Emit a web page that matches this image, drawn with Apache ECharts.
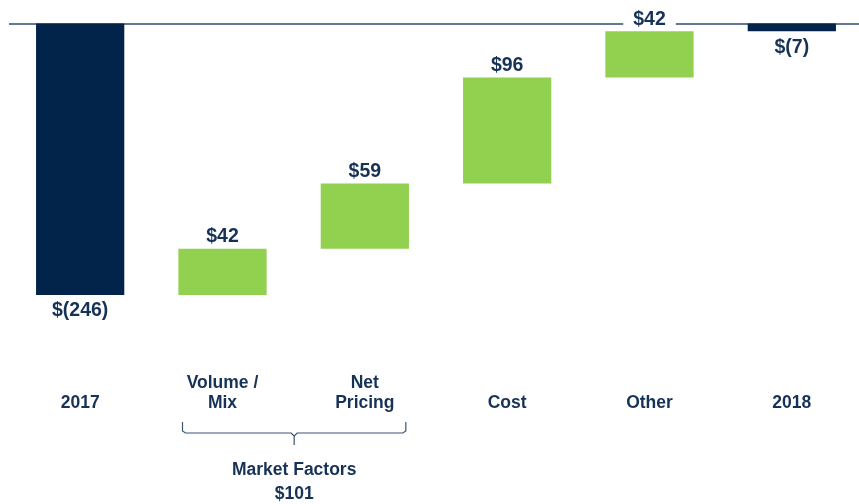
<!DOCTYPE html>
<html>
<head>
<meta charset="utf-8">
<script src="https://cdn.jsdelivr.net/npm/echarts@6/dist/echarts.min.js"></script>
<style>
  html, body { margin: 0; padding: 0; background: #fff; }
  #chart { width: 859px; height: 504px; }
</style>
</head>
<body>
<div id="chart"></div>
<script>
  // waterfall data
  var categories = ['2017', 'Volume /\nMix', 'Net\nPricing', 'Cost', 'Other', '2018']
  var values = [-246, 42, 59, 96, 42, -7]
  var isTotal = [true, false, false, false, false, true]
  var valueLabels = ['$(246)', '$42', '$59', '$96', '$42', '$(7)']
  var groupName = 'Market Factors'
  var groupFrom = 1
  var groupTo = 2

  var navy = '#03244a'
  var green = '#92d050'
  var textColor = '#173257'
  var fontFam = 'Liberation Sans, Arial, sans-serif'

  // build transparent base + visible part from running total
  var baseData = []
  var visData = []
  var running = 0
  values.forEach(function (v, i) {
    if (isTotal[i]) {
      baseData.push(0)
      visData.push({value: v, itemStyle: {color: navy},
        label: {show: true, position: 'bottom', distance: 6, formatter: valueLabels[i]}})
      running = v
    } else {
      var end = running + v
      baseData.push(end)
      visData.push({value: -v, itemStyle: {color: green},
        label: {show: true, position: 'top', distance: 2, formatter: valueLabels[i],
          backgroundColor: '#fff', padding: [0, 10, 0, 10]}})
      running = end
    }
  })
  var groupTotal = 0
  for (var k = groupFrom; k <= groupTo; k++) groupTotal += values[k]

  var chart = echarts.init(document.getElementById('chart'))
  chart.setOption({
    animation: false,
    grid: {left: 9, right: -4, top: 23.5, bottom: 149.4, outerBoundsMode: 'none'},
    xAxis: {
      type: 'category',
      data: categories,
      axisLine: {show: false},
      axisTick: {show: false},
      axisLabel: {
        color: textColor, fontSize: 17.5, fontWeight: 'bold', lineHeight: 20,
        fontFamily: fontFam,
        verticalAlign: 'bottom', margin: 59
      }
    },
    yAxis: {
      type: 'value', min: -300, max: 0,
      show: false, splitLine: {show: false}
    },
    series: [
      {
        type: 'bar', stack: 'w', barWidth: '62%',
        itemStyle: {color: 'transparent'},
        data: baseData,
        silent: true,
        markLine: {
          z: 1,
          symbol: 'none', silent: true, label: {show: false},
          lineStyle: {color: '#2c4a6e', width: 1.5, type: 'solid'},
          data: [{yAxis: 0}]
        }
      },
      {
        type: 'bar', stack: 'w', barWidth: '62%',
        data: visData,
        z: 3,
        label: {
          color: textColor, fontSize: 19.5, fontWeight: 'bold',
          fontFamily: fontFam
        }
      }
    ]
  })

  // brace + group label under the market factor categories
  var x1 = chart.convertToPixel({xAxisIndex: 0}, groupFrom) - 40
  var x2 = chart.convertToPixel({xAxisIndex: 0}, groupTo) + 41
  var xm = (x1 + x2) / 2
  var braceTop = 422, braceMid = 433, braceTip = 445
  var braceStyle = {stroke: '#3b5472', lineWidth: 1.2, fill: null}
  chart.setOption({
    graphic: [
      {type: 'polyline', shape: {points: [[x1, braceTop], [x1, braceMid - 2], [x1 + 3, braceMid], [xm - 3, braceMid], [xm, braceMid + 3], [xm, braceTip]]}, style: braceStyle},
      {type: 'polyline', shape: {points: [[x2, braceTop], [x2, braceMid - 2], [x2 - 3, braceMid], [xm + 3, braceMid], [xm, braceMid + 3]]}, style: braceStyle},
      {type: 'text', x: xm, y: 470, style: {text: groupName, fill: textColor, font: 'bold 17.5px ' + fontFam, textAlign: 'center', textVerticalAlign: 'middle'}},
      {type: 'text', x: xm, y: 494, style: {text: '$' + groupTotal, fill: textColor, font: 'bold 17.5px ' + fontFam, textAlign: 'center', textVerticalAlign: 'middle'}}
    ]
  })
</script>
</body>
</html>
